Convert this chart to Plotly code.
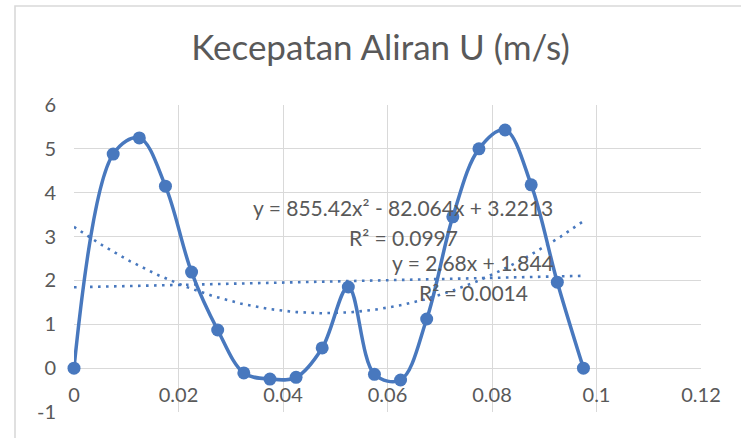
import numpy as np
import plotly.graph_objects as go

# ---- data ----
x_vals = [0, 0.0075, 0.0125, 0.0175, 0.0225, 0.0275, 0.0325, 0.0375, 0.0425, 0.0475,
          0.0525, 0.0575, 0.0625, 0.0675, 0.0725, 0.0775, 0.0825, 0.0875, 0.0925, 0.0975]
u_vals = [0, 4.88, 5.25, 4.15, 2.19, 0.87, -0.11, -0.25, -0.21, 0.46,
          1.85, -0.14, -0.27, 1.12, 3.45, 5.00, 5.43, 4.18, 1.96, 0]

quad_coef = [855.42, -82.064, 3.2213]   # trendline y = a x^2 + b x + c
lin_coef = [2.68, 1.844]                # trendline y = m x + k

title_text = "Kecepatan Aliran U (m/s)"
quad_eq = "y = 855.42x² - 82.064x + 3.2213"
quad_r2 = "R² = 0.0997"
lin_eq = "y = 2.68x + 1.844"
lin_r2 = "R² = 0.0014"

x_ticks = [0, 0.02, 0.04, 0.06, 0.08, 0.1, 0.12]
x_ticktext = ["0", "0.02", "0.04", "0.06", "0.08", "0.1", "0.12"]
y_ticks = [-1, 0, 1, 2, 3, 4, 5, 6]
y_ticktext = ["-1", "0", "1", "2", "3", "4", "5", "6"]

blue = "#4878BE"
grid = "#D9D9D9"
txt = "#595959"
font_family = "Lato, 'Open Sans', sans-serif"

xfit = np.linspace(min(x_vals), max(x_vals), 200)
yquad = np.polyval(quad_coef, xfit)
ylin = np.polyval(lin_coef, xfit)

fig = go.Figure()
fig.add_trace(go.Scatter(x=x_vals, y=u_vals, mode="lines+markers",
                         line=dict(color=blue, width=3.5, shape="spline", smoothing=1.0),
                         marker=dict(color=blue, size=13), showlegend=False,
                         cliponaxis=False))
fig.add_trace(go.Scatter(x=xfit, y=yquad, mode="lines",
                         line=dict(color=blue, width=2.6, dash="2.6px,5.4px"),
                         showlegend=False))
fig.add_trace(go.Scatter(x=xfit, y=ylin, mode="lines",
                         line=dict(color=blue, width=2.6, dash="2.6px,5.4px"),
                         showlegend=False))

ann_font = dict(family=font_family, size=21, color=txt)
for tx, ax, ay in [(quad_eq, 0.0629, 3.67), (quad_r2, 0.0631, 2.99),
                   (lin_eq, 0.0763, 2.42), (lin_r2, 0.0764, 1.73)]:
    fig.add_annotation(x=ax, y=ay, text=tx, showarrow=False, font=ann_font,
                       xanchor="center", yanchor="middle")

# chart-area border (extends past right/bottom edge of the picture)
L, R, T, B = 74, 40, 105, 26
pw, ph = 741 - L - R, 438 - T - B
fig.add_shape(type="rect", xref="paper", yref="paper",
              x0=(15 - L) / pw, x1=(760 - L) / pw,
              y0=(438 - B - 450) / ph, y1=(438 - B - 6) / ph,
              line=dict(color=grid, width=1.6), fillcolor="rgba(0,0,0,0)", layer="below")

fig.update_layout(
    width=741, height=438,
    margin=dict(l=L, r=R, t=T, b=B),
    paper_bgcolor="white", plot_bgcolor="white",
    title=dict(text=title_text, x=380.5 / 741, xref="container", xanchor="center",
               y=1 - 48 / 438, yref="container", yanchor="middle",
               font=dict(family=font_family, size=35, color=txt)),
    xaxis=dict(range=[0, 0.12], tickvals=x_ticks, ticktext=x_ticktext,
               showgrid=True, gridcolor=grid, gridwidth=1.3, zeroline=False,
               showline=False, anchor="free", position=1 / 7, ticks="",
               ticklabelstandoff=13,
               tickfont=dict(family=font_family, size=20, color=txt)),
    yaxis=dict(range=[-1, 6], tickvals=y_ticks, ticktext=y_ticktext, showgrid=True,
               gridcolor=grid, gridwidth=1.3, zeroline=False, showline=False, ticks="",
               ticklabelstandoff=17,
               tickfont=dict(family=font_family, size=20, color=txt)),
)

fig.write_html("out.html")
